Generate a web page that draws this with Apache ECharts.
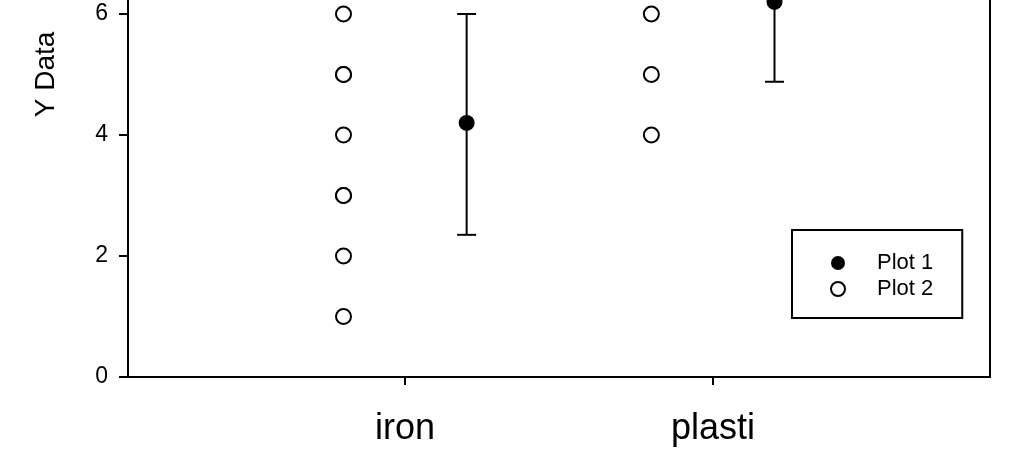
<!DOCTYPE html>
<html>
<head>
<meta charset="utf-8">
<script src="https://cdn.jsdelivr.net/npm/echarts@6/dist/echarts.min.js"></script>
<style>
html,body{margin:0;padding:0;background:#fff;}
#chart{width:1024px;height:459px;}
</style>
</head>
<body>
<div id="chart"></div>
<script>
// ---- data ----
const categories = ['iron', 'plasti'];
const plot2Values = [
  [1, 2, 3, 3, 4, 5, 5, 6],   // iron
  [4, 5, 6]                   // plasti
];
const plot1Mean = [4.2, 6.2];
const plot1Low = [2.35, 4.88];
const plot1High = [6.0, 7.52];
const yTicks = [0, 2, 4, 6, 8, 10];

// ---- build series data ----
const OFFSET = 0.2;
const plot2Data = [];
plot2Values.forEach((vals, i) => vals.forEach(v => plot2Data.push([i + 1 - OFFSET, v])));
const plot1Data = plot1Mean.map((m, i) => [i + 1 + OFFSET, m]);
const errData = plot1Mean.map((m, i) => [i + 1 + OFFSET, plot1Low[i], plot1High[i]]);

const FONT = '"Liberation Sans", Arial, sans-serif';
const chart = echarts.init(document.getElementById('chart'));
chart.setOption({
  animation: false,
  backgroundColor: '#fff',
  textStyle: { fontFamily: FONT, color: '#000' },
  grid: {
    left: 128, right: 34, top: -228, bottom: 82,
    show: true, borderColor: '#000', borderWidth: 2,
    containLabel: false, outerBoundsMode: 'none'
  },
  legend: {
    data: ['Plot 1', 'Plot 2'],
    orient: 'vertical',
    left: 792, top: 230,
    padding: [22, 29, 18, 38],
    itemWidth: 14, itemHeight: 14, itemGap: 4,
    borderColor: '#000', borderWidth: 2,
    backgroundColor: '#fff',
    textStyle: { fontFamily: FONT, fontSize: 22, lineHeight: 20, color: '#000', padding: [0, 0, 0, 27] }
  },
  xAxis: {
    type: 'value', min: 0.1, max: 2.9,
    splitLine: { show: false },
    axisLine: { show: true, onZero: false, lineStyle: { color: '#000', width: 2 } },
    axisTick: { show: true, customValues: [1, 2], length: 8, lineStyle: { color: '#000', width: 2 } },
    axisLabel: {
      customValues: [1, 2],
      formatter: v => categories[Math.round(v) - 1] || '',
      fontSize: 36, fontFamily: FONT, color: '#000', margin: 34
    }
  },
  yAxis: {
    type: 'value', min: 0, max: 10, interval: 2,
    name: 'Y Data', nameLocation: 'middle', nameGap: 68, nameRotate: 90,
    nameTextStyle: { fontSize: 28, fontFamily: FONT, color: '#000' },
    splitLine: { show: false },
    axisLine: { show: true, lineStyle: { color: '#000', width: 2 } },
    axisTick: { show: true, length: 9, lineStyle: { color: '#000', width: 2 } },
    axisLabel: { fontSize: 23, fontFamily: FONT, color: '#000', margin: 20,
      formatter: v => yTicks.includes(v) ? String(v) : '' }
  },
  series: [
    {
      name: 'Plot 1 err', type: 'custom', z: 2,
      data: errData,
      renderItem: function (params, api) {
        const x = api.value(0);
        const lo = api.coord([x, api.value(1)]);
        const hi = api.coord([x, api.value(2)]);
        const hw = 9.5;
        const st = { stroke: '#000', lineWidth: 2 };
        return {
          type: 'group',
          children: [
            { type: 'line', shape: { x1: lo[0], y1: lo[1], x2: hi[0], y2: hi[1] }, style: st },
            { type: 'line', shape: { x1: lo[0] - hw, y1: lo[1], x2: lo[0] + hw, y2: lo[1] }, style: st },
            { type: 'line', shape: { x1: hi[0] - hw, y1: hi[1], x2: hi[0] + hw, y2: hi[1] }, style: st }
          ]
        };
      }
    },
    {
      name: 'Plot 1', type: 'scatter', z: 3,
      symbol: 'circle', symbolSize: 16,
      itemStyle: { color: '#000', opacity: 1 },
      data: plot1Data
    },
    {
      name: 'Plot 2', type: 'scatter', z: 3,
      symbol: 'emptyCircle', symbolSize: 15,
      itemStyle: { color: '#000', borderColor: '#000', borderWidth: 2, opacity: 1 },
      data: plot2Data
    }
  ]
});
</script>
</body>
</html>
